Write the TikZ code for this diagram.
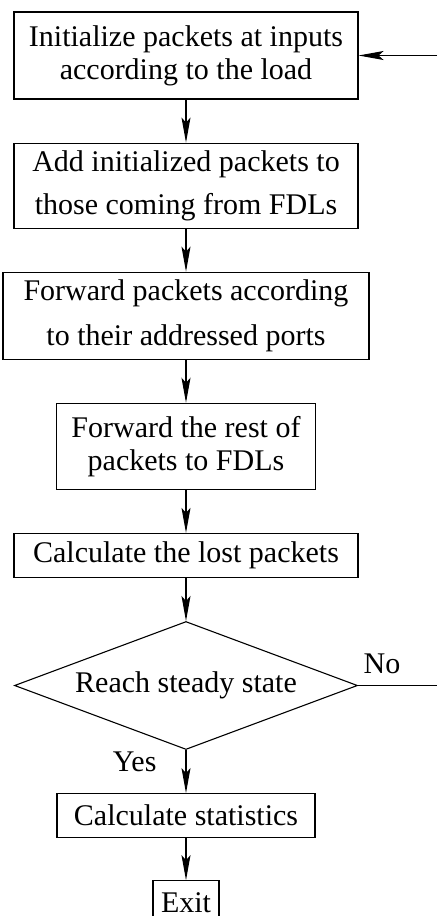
\documentclass[tikz,border=0pt]{standalone}
\usepackage{fontspec}
\setmainfont{Liberation Serif}
\usetikzlibrary{arrows.meta, positioning, shapes.geometric}

\begin{document}
\begin{tikzpicture}[
  node distance=43pt,
  every node/.style={font=\fontsize{30}{33}\selectfont},
  stepbox/.style={draw, line width=1.1pt, align=center, inner sep=0pt,
                  minimum width=344pt},
  decision/.style={draw, diamond, line width=1.1pt, aspect=2.68, inner sep=0pt,
                   minimum width=343pt, minimum height=128pt},
  flow/.style={line width=1.1pt, -{Stealth[length=25pt, width=9pt, inset=5pt]}},
  answer/.style={inner sep=0pt},
]
  \useasboundingbox (0,0) rectangle (437pt,-916pt);

  \node[stepbox, minimum height=87pt] (init) at (186pt,-55.5pt)
    {Initialize packets at inputs\\ according to the load};
  \node[stepbox, minimum height=85pt, below=of init] (add)
    {Add initialized packets to\\[10pt] those coming from FDLs};
  \node[stepbox, minimum width=366pt, minimum height=87pt, below=of add] (fwd)
    {Forward packets according\\[12pt] to their addressed ports};
  \node[stepbox, minimum width=259pt, minimum height=86pt, below=of fwd] (rest)
    {Forward the rest of\\ packets to FDLs};
  \node[stepbox, minimum height=44pt, below=of rest] (lost)
    {Calculate the lost packets};
  \node[decision, below=of lost] (steady) {Reach steady state};
  \node[stepbox, minimum width=258pt, minimum height=44pt, below=of steady] (stats)
    {Calculate statistics};
  \node[stepbox, minimum width=66pt, minimum height=46pt, below=42pt of stats] (exit)
    {\raisebox{3pt}{Exit}};

  % main chain
  \draw[flow] (init) -- (add);
  \draw[flow] (add) -- (fwd);
  \draw[flow] (fwd) -- (rest);
  \draw[flow] (rest) -- (lost);
  \draw[flow] (lost) -- (steady);
  \draw[flow] (steady) -- node[answer, pos=0.27, left=29pt] {Yes} (stats);
  \draw[flow] (stats) -- (exit);

  % loop back, cut at the right edge
  \coordinate (edge) at (437pt,0);
  \draw[line width=1.1pt] (steady.east) -- node[answer, at start, anchor=south west,
    xshift=5pt, yshift=11pt] {No} (steady.east -| edge);
  \draw[flow] (init.east -| edge) -- (init.east);

\end{tikzpicture}
\end{document}
